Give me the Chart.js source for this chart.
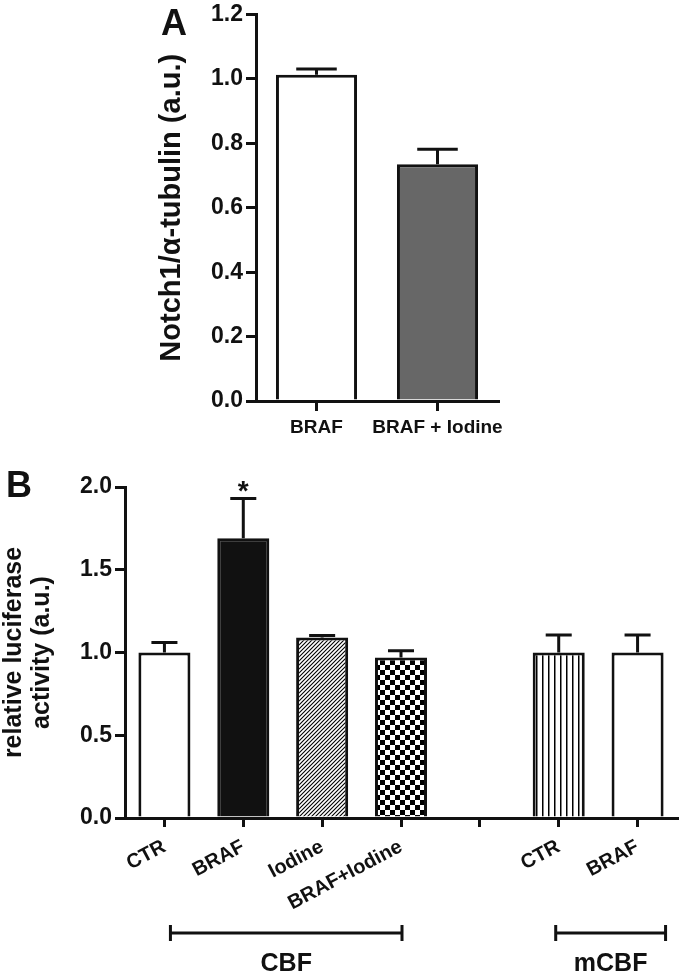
<!DOCTYPE html>
<html>
<head>
<meta charset="utf-8">
<script src="https://cdn.jsdelivr.net/npm/chart.js@4.4.1/dist/chart.umd.min.js"></script>
<style>
  body { margin: 0; background: #fff; }
  #wrap { position: relative; width: 680px; height: 974px; overflow: hidden; }
  canvas { position: absolute; left: 0; }
  #chartA { top: 0; }
  #chartB { top: 460px; }
  .panel { position: absolute; font: bold 36px 'Liberation Sans', Arial, sans-serif; line-height: 36px; color: #111; }
</style>
</head>
<body>
<div id="wrap">
  <canvas id="chartA" width="680" height="450"></canvas>
  <canvas id="chartB" width="680" height="514"></canvas>
  <div class="panel" style="left:161px; top:5px">A</div>
  <div class="panel" style="left:6px; top:467px">B</div>
</div>
<script>
'use strict'
// panel A data
const labelsA = ['BRAF', 'BRAF + Iodine'];
const valuesA = [1.013, 0.735];
const errorsA = [0.018, 0.047];
const ticksA = [0, 0.2, 0.4, 0.6, 0.8, 1.0, 1.2];

// panel B data
const labelsB = ['CTR', 'BRAF', 'Iodine', 'BRAF+Iodine', '', 'CTR', 'BRAF'];
const valuesB = [1.0, 1.69, 1.09, 0.97, null, 1.0, 1.0];
const errorsB = [0.06, 0.24, 0.012, 0.04, null, 0.105, 0.105];
const starsB = ['', '*', '', '', '', '', ''];
const ticksB = [0, 0.5, 1.0, 1.5, 2.0];
const groupNames = ['CBF', 'mCBF'];
const groupFrom = [0, 5];
const groupTo = [3, 6];

const FONT = "'Liberation Sans', Arial, sans-serif";
const INK = '#111';

// fill patterns
function makePattern(kind) {
  let c = document.createElement('canvas');
  let g = c.getContext('2d');
  if (kind === 'hatch') {
    c.width = 4; c.height = 4;
    g.fillStyle = '#fff'; g.fillRect(0, 0, 4, 4);
    g.strokeStyle = '#000'; g.lineWidth = 1.1;
    g.beginPath();
    g.moveTo(-1, 5); g.lineTo(5, -1);
    g.moveTo(-1, 1); g.lineTo(1, -1);
    g.moveTo(3, 5); g.lineTo(5, 3);
    g.stroke();
  } else if (kind === 'check') {
    c.width = 10; c.height = 10;
    g.fillStyle = '#fff'; g.fillRect(0, 0, 10, 10);
    g.fillStyle = '#000';
    g.fillRect(0, 0, 5, 5); g.fillRect(5, 5, 5, 5);
  } else if (kind === 'vlines') {
    c.width = 6; c.height = 2;
    g.fillStyle = '#fff'; g.fillRect(0, 0, 6, 2);
    g.fillStyle = '#000'; g.fillRect(2, 0, 1.5, 2);
  }
  return g.createPattern(c, 'repeat');
}

const fillsB = ['#fff', '#111', makePattern('hatch'), makePattern('check'), '#fff', makePattern('vlines'), '#fff'];

function errorPlugin(errors, stars) {
  return {
    id: 'errorBars',
    afterDatasetsDraw(chart) {
      let ctx = chart.ctx;
      let y = chart.scales.y;
      let data = chart.data.datasets[0].data;
      let meta = chart.getDatasetMeta(0);
      ctx.save();
      ctx.strokeStyle = INK;
      ctx.fillStyle = INK;
      ctx.lineWidth = 3;
      meta.data.forEach((bar, i) => {
        if (data[i] == null || errors[i] == null) return;
        let top = y.getPixelForValue(data[i] + errors[i]);
        let half = bar.width / 4;
        ctx.beginPath();
        ctx.moveTo(bar.x, bar.y);
        ctx.lineTo(bar.x, top);
        ctx.moveTo(bar.x - half, top);
        ctx.lineTo(bar.x + half, top);
        ctx.stroke();
        if (stars && stars[i]) {
          ctx.font = 'bold 28px ' + FONT;
          ctx.textAlign = 'center';
          ctx.textBaseline = 'alphabetic';
          ctx.fillText(stars[i], bar.x, top + 1);
        }
      });
      ctx.restore();
    }
  };
}

const groupPlugin = {
  id: 'groups',
  afterDraw(chart) {
    let ctx = chart.ctx;
    let x = chart.scales.x;
    let base = chart.chartArea.bottom;
    // small nudges so the brackets line up like the original figure
    let startNudge = [6, -3];
    let endNudge = [1, 28];
    ctx.save();
    ctx.strokeStyle = INK;
    ctx.fillStyle = INK;
    ctx.lineWidth = 3;
    ctx.font = 'bold 25px ' + FONT;
    ctx.textAlign = 'center';
    ctx.textBaseline = 'middle';
    for (let i = 0; i < groupNames.length; i++) {
      let x1 = x.getPixelForValue(groupFrom[i]) + startNudge[i];
      let x2 = x.getPixelForValue(groupTo[i]) + endNudge[i];
      let yb = base + 115;
      ctx.beginPath();
      ctx.moveTo(x1, yb); ctx.lineTo(x2, yb);
      ctx.moveTo(x1, yb - 8); ctx.lineTo(x1, yb + 8);
      ctx.moveTo(x2, yb - 8); ctx.lineTo(x2, yb + 8);
      ctx.stroke();
      ctx.fillText(groupNames[i], (x1 + x2) / 2, base + 146);
    }
    ctx.restore();
  }
};

function axisBase() {
  return {
    border: { display: true, color: INK, width: 3 },
    grid: { drawOnChartArea: false, drawTicks: true, color: INK, lineWidth: 3, offset: false }
  };
}

// panel A
let yA = axisBase();
yA.grid.tickLength = 10;
yA.min = 0;
yA.max = 1.2;
yA.afterBuildTicks = (s) => { s.ticks = ticksA.map(v => ({ value: v })); };
yA.ticks = { color: INK, font: { family: FONT, size: 23, weight: 'bold', lineHeight: 1 }, padding: 3,
  callback: (v) => Number(v).toFixed(1) };
yA.title = { display: true, text: 'Notch1/\u03b1-tubulin (a.u.)', color: INK,
  font: { family: FONT, size: 29, weight: 'bold' }, padding: { top: 155, bottom: 0 } };
yA.afterFit = (s) => { s.width = 256; };

let xA = axisBase();
xA.grid.tickLength = 10;
xA.ticks = { color: INK, font: { family: FONT, size: 19, weight: 'bold' }, padding: 5,
  maxRotation: 0, autoSkip: false };
xA.afterFit = (s) => { s.height = 49; };

new Chart(document.getElementById('chartA'), {
  type: 'bar',
  data: {
    labels: labelsA,
    datasets: [{
      data: valuesA,
      backgroundColor: ['#fff', '#676767'],
      borderColor: INK,
      borderWidth: 3,
      barPercentage: 0.67,
      categoryPercentage: 1
    }]
  },
  options: {
    responsive: false,
    animation: false,
    layout: { padding: { left: 0, right: 182, top: 13, bottom: 0 } },
    plugins: { legend: { display: false }, tooltip: { enabled: false } },
    scales: { x: xA, y: yA }
  },
  plugins: [errorPlugin(errorsA)]
});

// panel B
let yB = axisBase();
yB.grid.tickLength = 10;
yB.min = 0;
yB.max = 2.0;
yB.afterBuildTicks = (s) => { s.ticks = ticksB.map(v => ({ value: v })); };
yB.ticks = { color: INK, font: { family: FONT, size: 23, weight: 'bold', lineHeight: 1 }, padding: 3,
  callback: (v) => Number(v).toFixed(1) };
yB.title = { display: true, text: ['relative luciferase', 'activity (a.u.)'], color: INK,
  font: { family: FONT, size: 25, weight: 'bold', lineHeight: 1.12 }, padding: { top: 0, bottom: 0 } };
yB.afterFit = (s) => { s.width = 125; };

let xB = axisBase();
xB.grid.tickLength = 9;
xB.ticks = { color: INK, font: { family: FONT, size: 20, weight: 'bold' }, padding: 8,
  minRotation: 28, maxRotation: 28, autoSkip: false };
xB.afterFit = (s) => { s.height = 156; };

new Chart(document.getElementById('chartB'), {
  type: 'bar',
  data: {
    labels: labelsB,
    datasets: [{
      data: valuesB,
      backgroundColor: fillsB,
      borderColor: INK,
      borderWidth: 3,
      barPercentage: 0.66,
      categoryPercentage: 1
    }]
  },
  options: {
    responsive: false,
    animation: false,
    layout: { padding: { left: 0, right: 3, top: 27, bottom: 0 } },
    plugins: { legend: { display: false }, tooltip: { enabled: false } },
    scales: { x: xB, y: yB }
  },
  plugins: [errorPlugin(errorsB, starsB), groupPlugin]
});
</script>
</body>
</html>
